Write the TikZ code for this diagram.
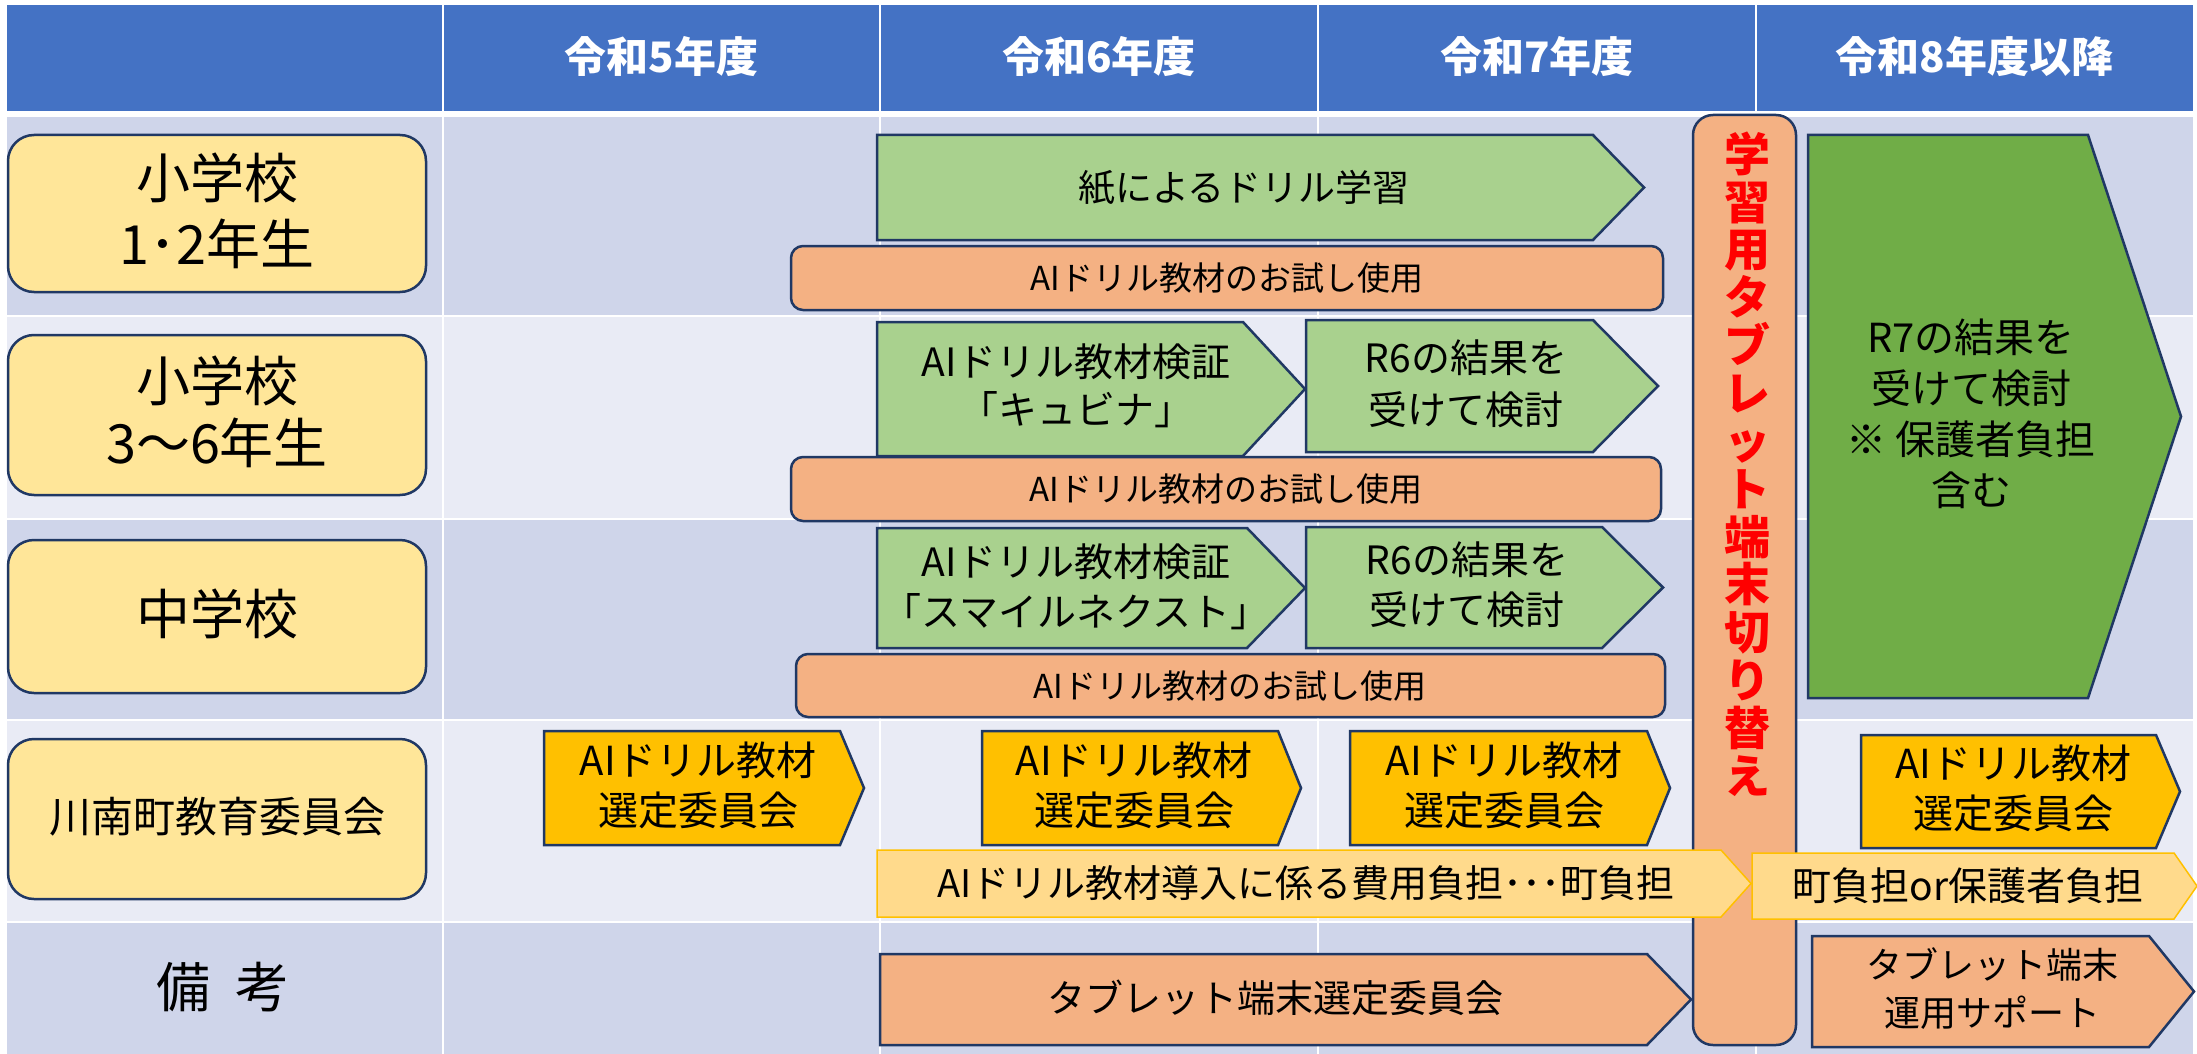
\documentclass[tikz,border=0pt]{standalone}
\usepackage{fontspec}
\setmainfont{Noto Sans CJK JP}
\definecolor{hdrblue}{HTML}{4472C4}
\definecolor{rowdark}{HTML}{CFD5EA}
\definecolor{rowlight}{HTML}{E9EBF5}
\definecolor{boxyellow}{HTML}{FFE699}
\definecolor{navyc}{HTML}{203864}
\definecolor{lgreen}{HTML}{A9D18E}
\definecolor{dgreen}{HTML}{70AD47}
\definecolor{orangec}{HTML}{F4B183}
\definecolor{goldc}{HTML}{FFC000}
\definecolor{paleyel}{HTML}{FFDA8C}
\newcommand\myfs[2]{\fontsize{#1}{#2}\selectfont}
\newcommand\pentpath[6]{\filldraw[#1] (#2,#3) -- (#4,#3) -- (#5,{(#3+#6)/2}) -- (#4,#6) -- (#2,#6) -- cycle;}
\tikzset{
  navyline/.style={draw=navyc, line width=2.5pt, line join=miter},
  lgreenshape/.style={navyline, fill=lgreen},
  dgreenshape/.style={navyline, fill=dgreen},
  orangeshape/.style={navyline, fill=orangec},
  goldshape/.style={navyline, fill=goldc},
  paleshape/.style={draw=goldc, line width=1.5pt, fill=paleyel},
  orangebar/.style={navyline, fill=orangec, rounded corners=12pt},
  catbox/.style={navyline, fill=boxyellow, rounded corners=26pt},
  lbl/.style={inner sep=0pt, align=center, text=black},
  hdrlbl/.style={inner sep=0pt, align=center, text=white, font=\myfs{42}{50}\bfseries},
}
\begin{document}
\begin{tikzpicture}[x=1pt,y=-1pt]
\useasboundingbox (0,0) rectangle (2197,1054);
\fill[white] (0,0) rectangle (2197,1054);
% header
\fill[hdrblue] (7,5) rectangle (2193,111);
% rows
\fill[rowdark]  (7,117) rectangle (2193,315);
\fill[rowlight] (7,317) rectangle (2193,518);
\fill[rowdark]  (7,520) rectangle (2193,719);
\fill[rowlight] (7,721) rectangle (2193,921);
\fill[rowdark]  (7,923) rectangle (2193,1054);
% column separators
\foreach \cx in {443,880,1318,1756} {\draw[white, line width=2pt] (\cx,5) -- (\cx,1054);}
% header labels
\node[hdrlbl] (h5) at (661.5,57) {令和5年度};
\node[hdrlbl] (h6) at (1099,57) {令和6年度};
\node[hdrlbl] (h7) at (1537,57) {令和7年度};
\node[hdrlbl] (h8) at (1974.5,57) {令和8年度以降};
% category boxes
\draw[catbox] (8,135) rectangle (426,292);
\node[lbl, font=\myfs{54}{66}] (c1) at (217,211) {小学校\\1･2年生};
\draw[catbox] (8,335) rectangle (426,495);
\node[lbl, font=\myfs{54}{62}] (c2) at (217,412) {小学校\\3〜6年生};
\draw[catbox] (8,540) rectangle (426,693);
\node[lbl, font=\myfs{54}{62}] (c3) at (217,614) {中学校};
\draw[catbox] (8,739) rectangle (426,899);
\node[lbl, font=\myfs{42}{50}] (c4) at (217,817) {川南町教育委員会};
\node[lbl, font=\myfs{54}{62}] (c5) at (223,987) {備\hspace{0.45em}考};
% row 1
\pentpath{lgreenshape}{877}{135}{1593}{1644}{240}
\node[lbl, font=\myfs{37}{46}] (r1g) at (1244,188) {紙によるドリル学習};
\draw[orangebar] (791,246) rectangle (1663,310);
\node[lbl, font=\myfs{33}{40}] (r1o) at (1227,278) {AIドリル教材のお試し使用};
% row 2
\pentpath{lgreenshape}{877}{322}{1243}{1305}{456}
\node[lbl, font=\myfs{39}{48}] (r2a) at (1076,386) {AIドリル教材検証\\「キュビナ」};
\pentpath{lgreenshape}{1306}{320}{1593}{1658}{452}
\node[lbl, font=\myfs{39}{52}] (r2b) at (1466,384) {R6の結果を\\受けて検討};
\draw[orangebar] (791,457) rectangle (1661,521);
\node[lbl, font=\myfs{33}{40}] (r2o) at (1226,489) {AIドリル教材のお試し使用};
% row 3
\pentpath{lgreenshape}{877}{528}{1247}{1305}{648}
\node[lbl, font=\myfs{39}{50}] (r3a) at (1076,587) {AIドリル教材検証\\「スマイルネクスト」};
\pentpath{lgreenshape}{1306}{527}{1602}{1663}{648}
\node[lbl, font=\myfs{39}{50}] (r3b) at (1467,585) {R6の結果を\\受けて検討};
\draw[orangebar] (796,654) rectangle (1665,717);
\node[lbl, font=\myfs{33}{40}] (r3o) at (1230,686) {AIドリル教材のお試し使用};
% row 5 left arrow
\pentpath{orangeshape}{880}{954}{1647}{1691}{1045}
\node[lbl, font=\myfs{38}{46}] (r5a) at (1275,998) {タブレット端末選定委員会};
% vertical switch bar
\draw[navyline, fill=orangec, rounded corners=20pt] (1693,115) rectangle (1796,1045);
\node[inner sep=0pt, align=center, text=red, font=\myfs{46}{47.85}\bfseries] (vbar) at (1747,464)
  {学\\習\\用\\タ\\ブ\\レ\\ッ\\ト\\端\\末\\切\\り\\替\\え};
% big green
\pentpath{dgreenshape}{1808}{135}{2088}{2181}{698}
\node[lbl, font=\myfs{40}{51}] (r8) at (1971,414) {R7の結果を\\受けて検討\\※ 保護者負担\\含む};
% row 4 gold arrows
\pentpath{goldshape}{544}{731}{840}{864}{845}
\node[lbl, font=\myfs{40}{50}] (g1) at (698,785) {AIドリル教材\\選定委員会};
\pentpath{goldshape}{982}{731}{1278}{1301}{845}
\node[lbl, font=\myfs{40}{50}] (g2) at (1134,785) {AIドリル教材\\選定委員会};
\pentpath{goldshape}{1350}{731}{1647}{1670}{845}
\node[lbl, font=\myfs{40}{50}] (g3) at (1504,785) {AIドリル教材\\選定委員会};
\pentpath{goldshape}{1861}{735}{2156}{2180}{848}
\node[lbl, font=\myfs{40}{50}] (g4) at (2013,788) {AIドリル教材\\選定委員会};
% pale cost arrows
\pentpath{paleshape}{877}{850}{1721}{1751}{917}
\node[lbl, font=\myfs{38}{46}] (p1) at (1306,883) {AIドリル教材導入に係る費用負担･･･町負担};
\pentpath{paleshape}{1752}{853}{2174}{2197}{919}
\node[lbl, font=\myfs{39}{46}] (p2) at (1968,886) {町負担or保護者負担};
% row 5 right arrow
\pentpath{orangeshape}{1812}{936}{2149}{2194}{1047}
\node[lbl, font=\myfs{36}{48}] (r5b) at (1992,989) {タブレット端末\\運用サポート};
\end{tikzpicture}
\end{document}
